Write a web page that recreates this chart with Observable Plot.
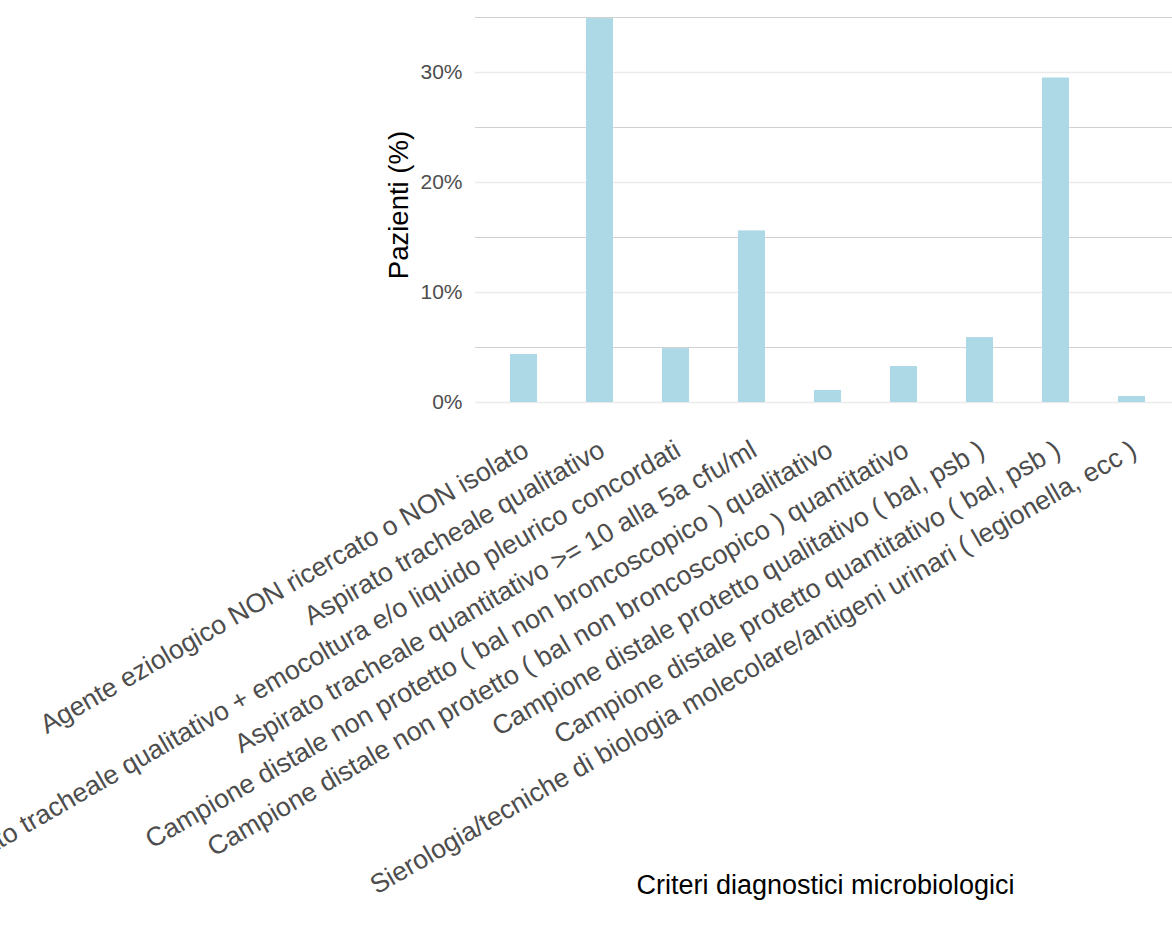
<!DOCTYPE html>
<html>
<head>
<meta charset="utf-8">
<script src="https://cdn.jsdelivr.net/npm/d3@7"></script>
<script src="https://cdn.jsdelivr.net/npm/@observablehq/plot@0.6"></script>
<style>
  html, body { margin: 0; padding: 0; background: #ffffff; }
  #chart { width: 1172px; height: 928px; overflow: hidden; }
</style>
</head>
<body>
<div id="chart"></div>
<script>
// ---- data ----
const categories = [
  "Agente eziologico NON ricercato o NON isolato",
  "Aspirato tracheale qualitativo",
  "Aspirato tracheale qualitativo + emocoltura e/o liquido pleurico concordati",
  "Aspirato tracheale quantitativo >= 10 alla 5a cfu/ml",
  "Campione distale non protetto ( bal non broncoscopico ) qualitativo",
  "Campione distale non protetto ( bal non broncoscopico ) quantitativo",
  "Campione distale protetto qualitativo ( bal, psb )",
  "Campione distale protetto quantitativo ( bal, psb )",
  "Sierologia/tecniche di biologia molecolare/antigeni urinari ( legionella, ecc )"
];
const values = [4.36, 34.9, 4.9, 15.6, 1.09, 3.27, 5.9, 29.5, 0.55];
const majorTicks = [0, 10, 20, 30];
const minorTicks = [5, 15, 25, 35];
const yTitle = "Pazienti (%)";
const xTitle = "Criteri diagnostici microbiologici";

const data = categories.map((c, i) => ({cat: c, value: values[i]}));
const FONT = "'Liberation Sans', Arial, Helvetica, sans-serif";

const chart = Plot.plot({
  width: 1172,
  height: 928,
  marginLeft: 475,
  marginRight: 0,
  marginTop: 17,
  marginBottom: 526,
  style: {fontFamily: FONT, background: "#ffffff", overflow: "hidden"},
  x: {domain: categories, type: "band", paddingInner: 0.647, paddingOuter: 0.379, align: 0.569, axis: null},
  y: {domain: [0, 35], axis: null},
  marks: [
    Plot.ruleY(minorTicks, {stroke: "#cccccc", strokeWidth: 0.9}),
    Plot.ruleY(majorTicks, {stroke: "#ebebeb", strokeWidth: 1.5}),
    Plot.barY(data, {x: "cat", y: "value", fill: "#ADD8E6"}),
    Plot.axisY(majorTicks, {
      tickSize: 0, tickPadding: 13, tickFormat: d => d + "%",
      fontSize: 21, color: "#4d4d4d", label: null
    }),
    Plot.text(categories, {
      x: d => d, frameAnchor: "bottom", rotate: -30,
      textAnchor: "end", lineAnchor: "bottom",
      dx: 6.5, dy: 52.5, fontSize: 26.6, fill: "#4d4d4d"
    }),
    Plot.text([yTitle], {
      frameAnchor: "left", rotate: -90, textAnchor: "middle", lineAnchor: "bottom",
      dx: -68, dy: -5, fontSize: 27.5, fill: "#000000"
    }),
    Plot.text([xTitle], {
      frameAnchor: "bottom", textAnchor: "middle", lineAnchor: "bottom",
      dx: 1.5, dy: 491, fontSize: 27, fill: "#000000"
    })
  ]
});
document.getElementById("chart").appendChild(chart);
</script>
</body>
</html>
